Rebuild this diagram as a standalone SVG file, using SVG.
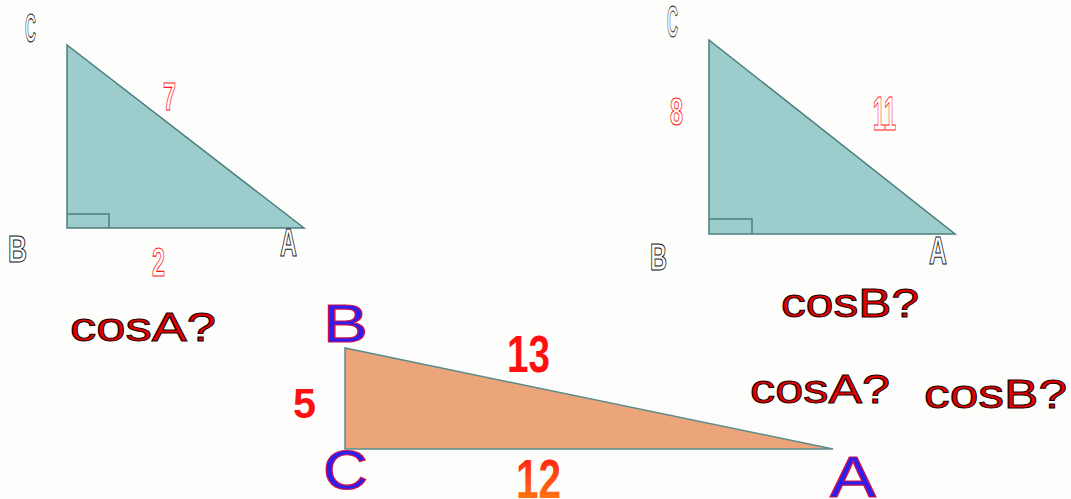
<svg xmlns="http://www.w3.org/2000/svg" width="1071" height="499" viewBox="0 0 1071 499">
<defs>
<linearGradient id="g12" x1="0" y1="0" x2="0" y2="1">
<stop offset="0" stop-color="#ff1010"/>
<stop offset="1" stop-color="#ff8a10"/>
</linearGradient>
</defs>
<style>
.tri1{fill:#9ccccb;stroke:#4b7f7f;stroke-width:1.5}
.tri2{fill:#eca47a;stroke:#5b8c8c;stroke-width:1.5}
.ra{fill:none;stroke:#4b7f7f;stroke-width:1.5}
.ob{font-family:"Liberation Sans",Arial,sans-serif;font-weight:bold;fill:#ffffff;stroke:#111;stroke-width:1.1}
.or{font-family:"Liberation Sans",Arial,sans-serif;font-weight:bold;fill:#ffffff;stroke:#ff1a1a;stroke-width:1.1}
.big{font-family:"Liberation Sans",Arial,sans-serif;fill:#2a1ef0;stroke:#d0104a;stroke-width:1.2}
.num{font-family:"Liberation Sans",Arial,sans-serif;font-weight:bold;fill:#ff1010}
.cos{font-family:"Liberation Sans",Arial,sans-serif;font-size:40px;fill:#e60000;stroke:#1a0000;stroke-width:1}
</style>
<rect width="1071" height="499" fill="#fdfdfb"/>
<g id="tri-1">
<polygon class="tri1" points="67,45 67,228 304,228"/>
<polyline class="ra" points="67,214 109,214 109,228"/>
<text class="ob" x="25" y="42" font-size="40" textLength="11" lengthAdjust="spacingAndGlyphs">C</text>
<text class="ob" x="8" y="262" font-size="36" textLength="19" lengthAdjust="spacingAndGlyphs">B</text>
<text class="ob" x="280" y="256" font-size="38" textLength="17" lengthAdjust="spacingAndGlyphs">A</text>
<text class="or" x="163" y="110" font-size="39" textLength="13" lengthAdjust="spacingAndGlyphs">7</text>
<text class="or" x="152" y="276" font-size="41" textLength="13" lengthAdjust="spacingAndGlyphs">2</text>
</g>
<g id="tri-2">
<polygon class="tri1" points="709,40 709,234 955,234"/>
<polyline class="ra" points="709,219 752,219 752,234"/>
<text class="ob" x="667" y="37" font-size="44" textLength="11" lengthAdjust="spacingAndGlyphs">C</text>
<text class="ob" x="650" y="270" font-size="37" textLength="17" lengthAdjust="spacingAndGlyphs">B</text>
<text class="ob" x="929" y="264" font-size="39" textLength="18" lengthAdjust="spacingAndGlyphs">A</text>
<text class="or" x="670" y="125" font-size="39" textLength="13" lengthAdjust="spacingAndGlyphs">8</text>
<text class="or" x="873" y="130" font-size="48" textLength="23" lengthAdjust="spacingAndGlyphs">11</text>
</g>
<g id="tri-3">
<polygon class="tri2" points="345,348 345,449 833,449"/>
<text class="big" x="323" y="342" font-size="54" textLength="45" lengthAdjust="spacingAndGlyphs">B</text>
<text class="big" x="323" y="489" font-size="56" textLength="45" lengthAdjust="spacingAndGlyphs">C</text>
<text class="big" x="830" y="497" font-size="57" textLength="46" lengthAdjust="spacingAndGlyphs">A</text>
<text class="num" x="293" y="418" font-size="42" textLength="23" lengthAdjust="spacingAndGlyphs">5</text>
<text class="num" x="507" y="372" font-size="52" textLength="43" lengthAdjust="spacingAndGlyphs">13</text>
<text class="num" x="516" y="498" font-size="56" textLength="45" lengthAdjust="spacingAndGlyphs" style="fill:url(#g12)">12</text>
</g>
<g id="questions">
<text class="cos" x="70" y="341" textLength="146" lengthAdjust="spacingAndGlyphs">cosA?</text>
<text class="cos" x="781" y="317" textLength="138" lengthAdjust="spacingAndGlyphs">cosB?</text>
<text class="cos" x="750" y="403" textLength="140" lengthAdjust="spacingAndGlyphs">cosA?</text>
<text class="cos" x="924" y="408" textLength="143" lengthAdjust="spacingAndGlyphs">cosB?</text>
</g>
<g id="connectors"/>
</svg>
